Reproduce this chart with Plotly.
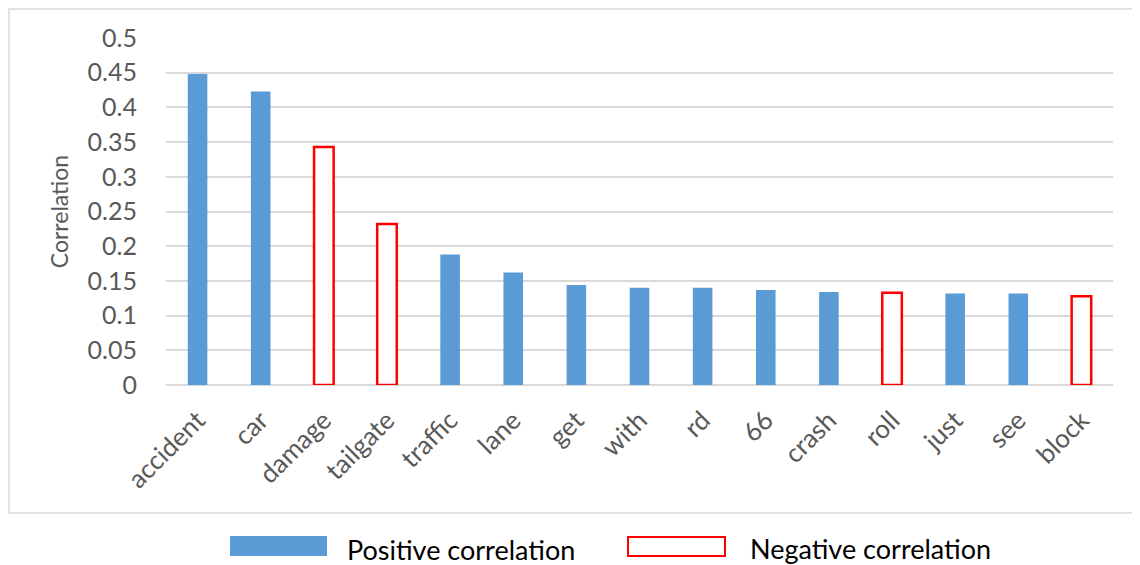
import plotly.graph_objects as go

categories = ["accident", "car", "damage", "tailgate", "traffic", "lane", "get", "with",
              "rd", "66", "crash", "roll", "just", "see", "block"]
correlation = [0.448, 0.423, 0.343, 0.232, 0.188, 0.162, 0.144, 0.140,
               0.140, 0.137, 0.134, 0.133, 0.132, 0.132, 0.128]
is_negative = [False, False, True, True, False, False, False, False,
               False, False, False, True, False, False, True]
y_ticks = [0, 0.05, 0.1, 0.15, 0.2, 0.25, 0.3, 0.35, 0.4, 0.45, 0.5]
y_tick_labels = ["0", "0.05", "0.1", "0.15", "0.2", "0.25", "0.3", "0.35", "0.4", "0.45", "0.5"]

pos_vals = [v if not n else None for v, n in zip(correlation, is_negative)]
neg_vals = [v if n else None for v, n in zip(correlation, is_negative)]

# page body has an 8px margin; shrink the figure so it sits where the reference does
OFF = 8
W, H = 1140 - OFF, 565 - OFF
ML, MR, MT, MB = 166 - OFF, 27, 38 - OFF, 180
PW, PH = W - ML - MR, H - MT - MB

def px(x):
    # x in screen pixels -> paper coords
    return (x - OFF - ML) / PW

def py(y):
    return (H - MB - (y - OFF)) / PH

FONT = "Lato"
GRAY = "#595959"
GRID = "#d9d9d9"

fig = go.Figure()
fig.add_trace(go.Bar(x=categories, y=pos_vals, name="Positive correlation",
                     marker=dict(color="#5b9bd5", line=dict(width=0)), width=0.31))
fig.add_trace(go.Bar(x=categories, y=neg_vals, name="Negative correlation",
                     marker=dict(color="white", line=dict(color="#ff0000", width=2.5)), width=0.31))

shapes = [
    dict(type="rect", xref="paper", yref="paper", x0=px(9), x1=px(1180), y0=py(513), y1=py(9),
         line=dict(color=GRID, width=1.5), fillcolor="rgba(0,0,0,0)", layer="below"),
    dict(type="rect", xref="paper", yref="paper", x0=px(230), x1=px(327), y0=py(556), y1=py(536),
         line=dict(width=0), fillcolor="#5b9bd5"),
    dict(type="rect", xref="paper", yref="paper", x0=px(628), x1=px(725), y0=py(556), y1=py(537),
         line=dict(color="#ff0000", width=2), fillcolor="white"),
]
annotations = [
    dict(text="Positive correlation", xref="paper", yref="paper", x=px(345), y=py(549),
         xanchor="left", yanchor="middle", showarrow=False, font=dict(family=FONT, size=27, color="black")),
    dict(text="Negative correlation", xref="paper", yref="paper", x=px(748), y=py(548),
         xanchor="left", yanchor="middle", showarrow=False, font=dict(family=FONT, size=27, color="black")),
]

fig.update_layout(
    width=W, height=H,
    margin=dict(l=ML, r=MR, t=MT, b=MB),
    paper_bgcolor="white", plot_bgcolor="white",
    barmode="overlay",
    showlegend=False,
    shapes=shapes,
    annotations=annotations,
    font=dict(family=FONT, color=GRAY),
)
fig.update_xaxes(
    tickangle=-45, tickfont=dict(family=FONT, size=26, color=GRAY),
    showgrid=False, showline=False, ticks="", ticklabelstandoff=14,
)
fig.update_yaxes(
    range=[0, 0.5], tickvals=y_ticks, ticktext=y_tick_labels,
    tickfont=dict(family=FONT, size=25, color=GRAY),
    showgrid=True, gridcolor=GRID, gridwidth=1.5,
    zeroline=True, zerolinecolor=GRID, zerolinewidth=1.5,
    showline=False, ticks="", ticklabelstandoff=28,
    title=dict(text="Correlation", font=dict(family=FONT, size=23, color=GRAY), standoff=12),
)

fig.write_html("out.html")
